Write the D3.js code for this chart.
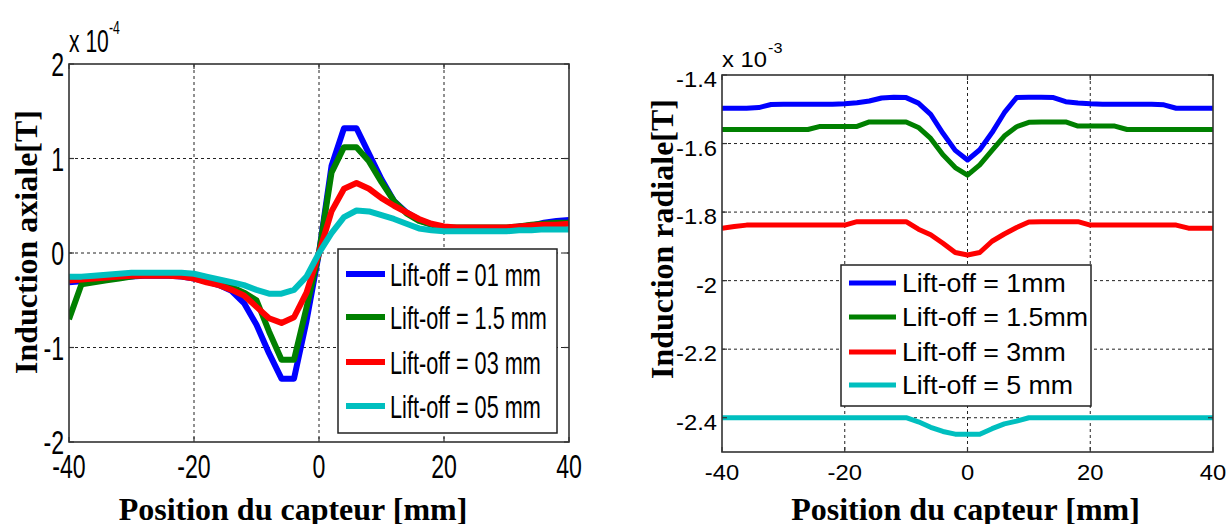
<!DOCTYPE html>
<html><head><meta charset="utf-8">
<script src="https://cdn.jsdelivr.net/npm/d3@7"></script>
<style>html,body{margin:0;padding:0;background:#fff;}svg{display:block;}</style>
</head><body>
<svg id="chart" width="1231" height="524"></svg>
<script>
// Shared sensor positions [mm]
const positions = [-40,-38,-36,-34,-32,-30,-28,-26,-24,-22,-20,-18,-16,-14,-12,-10,-8,-6,-4,-2,0,2,4,6,8,10,12,14,16,18,20,22,24,26,28,30,32,34,36,38,40];

// Left: axial induction (x 10^-4 T)
const axialLabels = ["Lift-off = 01 mm","Lift-off = 1.5 mm","Lift-off = 03 mm","Lift-off = 05 mm"];
const axial01 = [-0.31,-0.30,-0.29,-0.27,-0.26,-0.25,-0.24,-0.24,-0.24,-0.25,-0.27,-0.30,-0.34,-0.40,-0.53,-0.76,-1.06,-1.33,-1.33,-0.72,0,0.92,1.32,1.32,1.05,0.78,0.55,0.43,0.35,0.30,0.265,0.26,0.26,0.26,0.26,0.26,0.28,0.29,0.32,0.34,0.35];
const axial15 = [-0.70,-0.33,-0.31,-0.29,-0.27,-0.25,-0.23,-0.23,-0.23,-0.24,-0.26,-0.29,-0.32,-0.36,-0.42,-0.50,-0.83,-1.13,-1.13,-0.58,0,0.85,1.12,1.12,0.97,0.75,0.55,0.42,0.34,0.30,0.27,0.27,0.27,0.27,0.27,0.27,0.28,0.30,0.31,0.32,0.32];
const axial03 = [-0.29,-0.28,-0.27,-0.26,-0.25,-0.24,-0.24,-0.24,-0.24,-0.25,-0.27,-0.31,-0.34,-0.39,-0.45,-0.57,-0.69,-0.74,-0.68,-0.42,0,0.44,0.68,0.74,0.68,0.58,0.50,0.43,0.36,0.31,0.28,0.27,0.27,0.27,0.27,0.27,0.28,0.29,0.30,0.30,0.31];
const axial05 = [-0.25,-0.25,-0.24,-0.23,-0.22,-0.21,-0.21,-0.21,-0.21,-0.21,-0.22,-0.25,-0.28,-0.31,-0.34,-0.39,-0.43,-0.43,-0.39,-0.25,0,0.21,0.38,0.45,0.44,0.40,0.36,0.31,0.26,0.24,0.23,0.23,0.23,0.23,0.23,0.23,0.24,0.24,0.25,0.25,0.25];
const axialXTicks = [-40,-20,0,20,40];
const axialYTicks = [-2,-1,0,1,2];

// Right: radial induction (x 10^-3 T)
const radialLabels = ["Lift-off = 1mm","Lift-off = 1.5mm","Lift-off = 3mm","Lift-off = 5 mm"];
const radial1 = [-1.497,-1.497,-1.497,-1.495,-1.486,-1.485,-1.485,-1.485,-1.485,-1.485,-1.484,-1.481,-1.476,-1.467,-1.465,-1.466,-1.482,-1.515,-1.570,-1.620,-1.648,-1.618,-1.568,-1.510,-1.466,-1.465,-1.465,-1.466,-1.478,-1.482,-1.484,-1.485,-1.485,-1.485,-1.485,-1.485,-1.487,-1.497,-1.497,-1.497,-1.497];
const radial15 = [-1.559,-1.559,-1.559,-1.559,-1.559,-1.559,-1.559,-1.559,-1.550,-1.550,-1.550,-1.550,-1.537,-1.537,-1.537,-1.537,-1.553,-1.585,-1.633,-1.670,-1.692,-1.662,-1.620,-1.578,-1.551,-1.538,-1.537,-1.537,-1.537,-1.549,-1.549,-1.549,-1.549,-1.559,-1.559,-1.559,-1.559,-1.559,-1.559,-1.559,-1.559];
const radial3 = [-1.847,-1.842,-1.838,-1.838,-1.838,-1.838,-1.838,-1.838,-1.838,-1.838,-1.838,-1.828,-1.828,-1.828,-1.828,-1.828,-1.850,-1.866,-1.891,-1.918,-1.925,-1.918,-1.885,-1.864,-1.845,-1.829,-1.828,-1.828,-1.828,-1.828,-1.838,-1.838,-1.838,-1.838,-1.838,-1.838,-1.838,-1.838,-1.847,-1.847,-1.847];
const radial5 = [-2.400,-2.400,-2.400,-2.400,-2.400,-2.400,-2.400,-2.400,-2.400,-2.400,-2.400,-2.400,-2.400,-2.400,-2.400,-2.400,-2.412,-2.428,-2.440,-2.448,-2.448,-2.448,-2.432,-2.418,-2.410,-2.400,-2.400,-2.400,-2.400,-2.400,-2.400,-2.400,-2.400,-2.400,-2.400,-2.400,-2.400,-2.400,-2.400,-2.400,-2.400];
const radialXTicks = [-40,-20,0,20,40];
const radialYTicks = [-2.4,-2.2,-2,-1.8,-1.6,-1.4];

const seriesColors = ["#0000ff","#008000","#ff0000","#00bfbf"];

const svg = d3.select("#chart");

function panel(cfg){
  const g = svg.append("g");
  const x = d3.scaleLinear().domain(cfg.xDomain).range([cfg.left, cfg.right]);
  const y = d3.scaleLinear().domain(cfg.yDomain).range([cfg.bottom, cfg.top]);
  const clipId = "clip" + cfg.id;
  svg.append("defs").append("clipPath").attr("id", clipId)
    .append("rect").attr("x", cfg.left).attr("y", cfg.top)
    .attr("width", cfg.right - cfg.left).attr("height", cfg.bottom - cfg.top);

  g.append("rect").attr("x", cfg.left).attr("y", cfg.top)
    .attr("width", cfg.right - cfg.left).attr("height", cfg.bottom - cfg.top).attr("fill", "#fff");

  // grid
  const gridX = cfg.xTicks.filter(v => v > cfg.xDomain[0] && v < cfg.xDomain[1]);
  const gridY = cfg.yTicks.filter(v => v > cfg.yDomain[0] && v < cfg.yDomain[1]);
  g.selectAll(".gx").data(gridX).enter().append("line")
    .attr("x1", d => x(d)).attr("x2", d => x(d)).attr("y1", cfg.top).attr("y2", cfg.bottom)
    .attr("stroke", "#222").attr("stroke-width", 1).attr("stroke-dasharray", "3,3");
  g.selectAll(".gy").data(gridY).enter().append("line")
    .attr("y1", d => y(d)).attr("y2", d => y(d)).attr("x1", cfg.left).attr("x2", cfg.right)
    .attr("stroke", "#222").attr("stroke-width", 1).attr("stroke-dasharray", "3,3");

  // series
  const line = d3.line().x((d, i) => x(positions[i])).y(d => y(d));
  const lg = g.append("g").attr("clip-path", `url(#${clipId})`);
  cfg.series.forEach((s, i) => {
    lg.append("path").datum(s).attr("d", line).attr("fill", "none")
      .attr("stroke", seriesColors[i]).attr("stroke-width", cfg.lineWidth)
      .attr("stroke-linejoin", "round").attr("stroke-linecap", "butt");
  });

  // ticks (inward, both sides)
  const tl = 5;
  cfg.xTicks.forEach(v => {
    g.append("line").attr("x1", x(v)).attr("x2", x(v)).attr("y1", cfg.bottom).attr("y2", cfg.bottom - tl).attr("stroke", "#333").attr("stroke-width", 1.2);
    g.append("line").attr("x1", x(v)).attr("x2", x(v)).attr("y1", cfg.top).attr("y2", cfg.top + tl).attr("stroke", "#333").attr("stroke-width", 1.2);
  });
  cfg.yTicks.forEach(v => {
    g.append("line").attr("y1", y(v)).attr("y2", y(v)).attr("x1", cfg.left).attr("x2", cfg.left + tl).attr("stroke", "#333").attr("stroke-width", 1.2);
    g.append("line").attr("y1", y(v)).attr("y2", y(v)).attr("x1", cfg.right).attr("x2", cfg.right - tl).attr("stroke", "#333").attr("stroke-width", 1.2);
  });

  // frame
  g.append("rect").attr("x", cfg.left).attr("y", cfg.top)
    .attr("width", cfg.right - cfg.left).attr("height", cfg.bottom - cfg.top)
    .attr("fill", "none").attr("stroke", "#333").attr("stroke-width", 1.6);

  const sx = cfg.fontScaleX;
  // x tick labels
  cfg.xTicks.forEach(v => {
    g.append("text").attr("transform", `translate(${x(v)},${cfg.xLabelBaseline}) scale(${sx},1)`)
      .attr("text-anchor", "middle").attr("font-family", "Liberation Sans, Arial, sans-serif")
      .attr("font-size", cfg.tickFont).attr("fill", "#000").text(cfg.fmt(v));
  });
  // y tick labels
  cfg.yTicks.forEach(v => {
    g.append("text").attr("transform", `translate(${cfg.yLabelRight},${y(v) + cfg.yLabelDy}) scale(${sx},1)`)
      .attr("text-anchor", "end").attr("font-family", "Liberation Sans, Arial, sans-serif")
      .attr("font-size", cfg.tickFont).attr("fill", "#000").text(cfg.fmt(v));
  });
  // exponent
  const ex = g.append("g").attr("transform", `translate(${cfg.left},${cfg.expBaseline})`);
  ex.append("text").attr("transform", `scale(${sx},1)`).attr("font-family", "Liberation Sans, Arial, sans-serif")
    .attr("font-size", cfg.expFont).attr("fill", "#000").text("x 10");
  ex.append("text").attr("transform", `translate(${cfg.supDx},${-cfg.supDy}) scale(${sx},1)`).attr("font-family", "Liberation Sans, Arial, sans-serif")
    .attr("font-size", cfg.supFont).attr("fill", "#000").text(cfg.expSup);

  // axis titles
  g.append("text").attr("x", (cfg.left + cfg.right) / 2 - cfg.xTitleShift).attr("y", 520)
    .attr("text-anchor", "middle").attr("font-family", "Liberation Serif, Times New Roman, serif")
    .attr("font-weight", "bold").attr("font-size", 32).attr("fill", "#000").text("Position du capteur [mm]");
  g.append("text").attr("transform", `translate(${cfg.yTitleX},${cfg.yTitleY}) rotate(-90)`)
    .attr("text-anchor", "middle").attr("font-family", "Liberation Serif, Times New Roman, serif")
    .attr("font-weight", "bold").attr("font-size", 32).attr("fill", "#000").text(cfg.yTitle);

  // legend
  const L = cfg.legend;
  g.append("rect").attr("x", L.x0).attr("y", L.y0).attr("width", L.x1 - L.x0).attr("height", L.y1 - L.y0)
    .attr("fill", "#fff").attr("stroke", "#222").attr("stroke-width", 1.5);
  cfg.labels.forEach((lab, i) => {
    const cy = L.rows[i];
    g.append("line").attr("x1", L.lx0).attr("x2", L.lx1).attr("y1", cy).attr("y2", cy)
      .attr("stroke", seriesColors[i]).attr("stroke-width", cfg.lineWidth);
    g.append("text").attr("transform", `translate(${L.tx},${cy + L.dy}) scale(${L.sx},1)`)
      .attr("font-family", "Liberation Sans, Arial, sans-serif").attr("font-size", L.font)
      .attr("fill", "#000").text(lab);
  });
}

panel({
  id: "A", left: 69, right: 569, top: 64, bottom: 442,
  xDomain: [-40, 40], yDomain: [-2, 2],
  xTicks: axialXTicks, yTicks: axialYTicks,
  series: [axial01, axial15, axial03, axial05], labels: axialLabels,
  lineWidth: 6, tickFont: 34, fontScaleX: 0.68,
  fmt: d => String(d).replace("-", "-"),
  xLabelBaseline: 478, yLabelRight: 64, yLabelDy: 12,
  expBaseline: 52, expFont: 31, supFont: 18, supDx: 40, supDy: 18, expSup: "-4",
  xTitleShift: 26, yTitleX: 37, yTitleY: 242, yTitle: "Induction axiale[T]",
  legend: {x0: 338, x1: 557, y0: 249, y1: 433, rows: [274, 317, 362, 406],
           lx0: 346, lx1: 385, tx: 390, dy: 12, font: 31, sx: 0.7}
});

panel({
  id: "B", left: 722, right: 1213, top: 75, bottom: 452,
  xDomain: [-40, 40], yDomain: [-2.5, -1.4],
  xTicks: radialXTicks, yTicks: radialYTicks,
  series: [radial1, radial15, radial3, radial5], labels: radialLabels,
  lineWidth: 5, tickFont: 22, fontScaleX: 1.08,
  fmt: d => String(d),
  xLabelBaseline: 480, yLabelRight: 717, yLabelDy: 12,
  expBaseline: 67, expFont: 22, supFont: 15, supDx: 46, supDy: 14, expSup: "-3",
  xTitleShift: 2, yTitleX: 673, yTitleY: 239, yTitle: "Induction radiale[T]",
  legend: {x0: 841, x1: 1091, y0: 265, y1: 406, rows: [283, 317, 352, 385],
           lx0: 849, lx1: 896, tx: 902, dy: 9, font: 25, sx: 1.07}
});
</script>
</body></html>
